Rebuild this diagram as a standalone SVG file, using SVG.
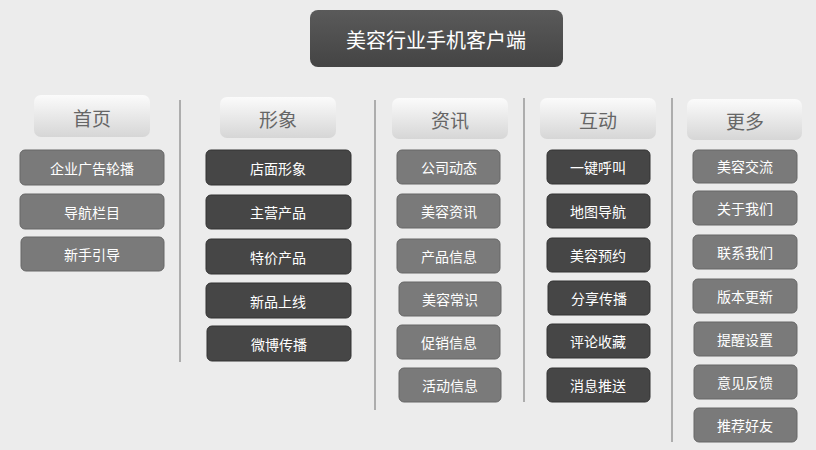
<svg xmlns="http://www.w3.org/2000/svg" width="816" height="450" viewBox="0 0 816 450">
<defs>
<linearGradient id="hg" x1="0" y1="0" x2="0" y2="1"><stop offset="0" stop-color="#fbfbfb"/><stop offset="1" stop-color="#d6d6d6"/></linearGradient>
<linearGradient id="tg" x1="0" y1="0" x2="0" y2="1"><stop offset="0" stop-color="#5a5a5a"/><stop offset="1" stop-color="#444"/></linearGradient>
</defs>
<style>
text{font-family:"Noto Sans CJK SC","Noto Sans",sans-serif;text-anchor:middle;dominant-baseline:central}
.h rect{fill:url(#hg)} .h text{fill:#666;font-size:19px}
.l rect{fill:#7a7a7a;stroke:#666;stroke-width:1} .d rect{fill:#464646;stroke:#333;stroke-width:1}
.l text,.d text{fill:#fff;font-size:14px}
.div line{stroke:#999;stroke-width:1.5}
</style>
<rect width="816" height="450" fill="#ececec"/>
<g id="title"><rect x="310" y="10" width="253" height="57" rx="8" fill="url(#tg)"/><text x="436" y="39" fill="#fff" font-size="20">美容行业手机客户端</text></g>
<g id="connectors" class="div">
<line x1="180" y1="100" x2="180" y2="362"/><line x1="375" y1="100" x2="375" y2="410"/><line x1="524" y1="98" x2="524" y2="402"/><line x1="672" y1="98" x2="672" y2="442"/>
</g>
<g class="h">
<g id="h1"><rect x="34" y="95" width="116" height="42" rx="7"/><text x="92" y="117">首页</text></g>
<g id="h2"><rect x="220" y="97" width="116" height="41" rx="7"/><text x="278" y="118">形象</text></g>
<g id="h3"><rect x="392" y="98" width="116" height="41" rx="7"/><text x="450" y="119">资讯</text></g>
<g id="h4"><rect x="540" y="98" width="116" height="41" rx="7"/><text x="598" y="119">互动</text></g>
<g id="h5"><rect x="687" y="99" width="115" height="41" rx="7"/><text x="745" y="120">更多</text></g>
</g>
<g class="l">
<g id="a1"><rect x="20" y="150" width="144" height="35" rx="5"/><text x="92" y="168">企业广告轮播</text></g>
<g id="a2"><rect x="20" y="194" width="144" height="35" rx="5"/><text x="92" y="212">导航栏目</text></g>
<g id="a3"><rect x="21" y="237" width="143" height="34" rx="5"/><text x="92" y="254">新手引导</text></g>
</g>
<g class="d">
<g id="b1"><rect x="206" y="150" width="145" height="35" rx="5"/><text x="278" y="168">店面形象</text></g>
<g id="b2"><rect x="206" y="195" width="145" height="34" rx="5"/><text x="278" y="212">主营产品</text></g>
<g id="b3"><rect x="206" y="239" width="145" height="35" rx="5"/><text x="278" y="257">特价产品</text></g>
<g id="b4"><rect x="206" y="283" width="145" height="35" rx="5"/><text x="278" y="301">新品上线</text></g>
<g id="b5"><rect x="207" y="326" width="144" height="35" rx="5"/><text x="279" y="344">微博传播</text></g>
</g>
<g class="l">
<g id="c1"><rect x="397" y="150" width="103" height="34" rx="5"/><text x="449" y="167">公司动态</text></g>
<g id="c2"><rect x="397" y="194" width="103" height="34" rx="5"/><text x="449" y="211">美容资讯</text></g>
<g id="c3"><rect x="397" y="239" width="103" height="34" rx="5"/><text x="449" y="256">产品信息</text></g>
<g id="c4"><rect x="399" y="282" width="102" height="34" rx="5"/><text x="450" y="299">美容常识</text></g>
<g id="c5"><rect x="397" y="325" width="103" height="34" rx="5"/><text x="449" y="342">促销信息</text></g>
<g id="c6"><rect x="399" y="368" width="102" height="34" rx="5"/><text x="450" y="385">活动信息</text></g>
</g>
<g class="d">
<g id="d1"><rect x="547" y="150" width="103" height="34" rx="5"/><text x="598" y="167">一键呼叫</text></g>
<g id="d2"><rect x="547" y="194" width="103" height="34" rx="5"/><text x="598" y="211">地图导航</text></g>
<g id="d3"><rect x="547" y="238" width="103" height="34" rx="5"/><text x="598" y="255">美容预约</text></g>
<g id="d4"><rect x="548" y="281" width="102" height="34" rx="5"/><text x="599" y="298">分享传播</text></g>
<g id="d5"><rect x="547" y="324" width="103" height="34" rx="5"/><text x="598" y="341">评论收藏</text></g>
<g id="d6"><rect x="547" y="368" width="103" height="34" rx="5"/><text x="598" y="385">消息推送</text></g>
</g>
<g class="l">
<g id="e1"><rect x="693" y="150" width="104" height="33" rx="5"/><text x="745" y="166">美容交流</text></g>
<g id="e2"><rect x="693" y="191" width="104" height="34" rx="5"/><text x="745" y="208">关于我们</text></g>
<g id="e3"><rect x="693" y="235" width="104" height="34" rx="5"/><text x="745" y="252">联系我们</text></g>
<g id="e4"><rect x="693" y="279" width="104" height="34" rx="5"/><text x="745" y="296">版本更新</text></g>
<g id="e5"><rect x="694" y="322" width="103" height="34" rx="5"/><text x="745" y="339">提醒设置</text></g>
<g id="e6"><rect x="694" y="365" width="103" height="34" rx="5"/><text x="745" y="382">意见反馈</text></g>
<g id="e7"><rect x="694" y="408" width="103" height="34" rx="5"/><text x="745" y="425">推荐好友</text></g>
</g>
</svg>
